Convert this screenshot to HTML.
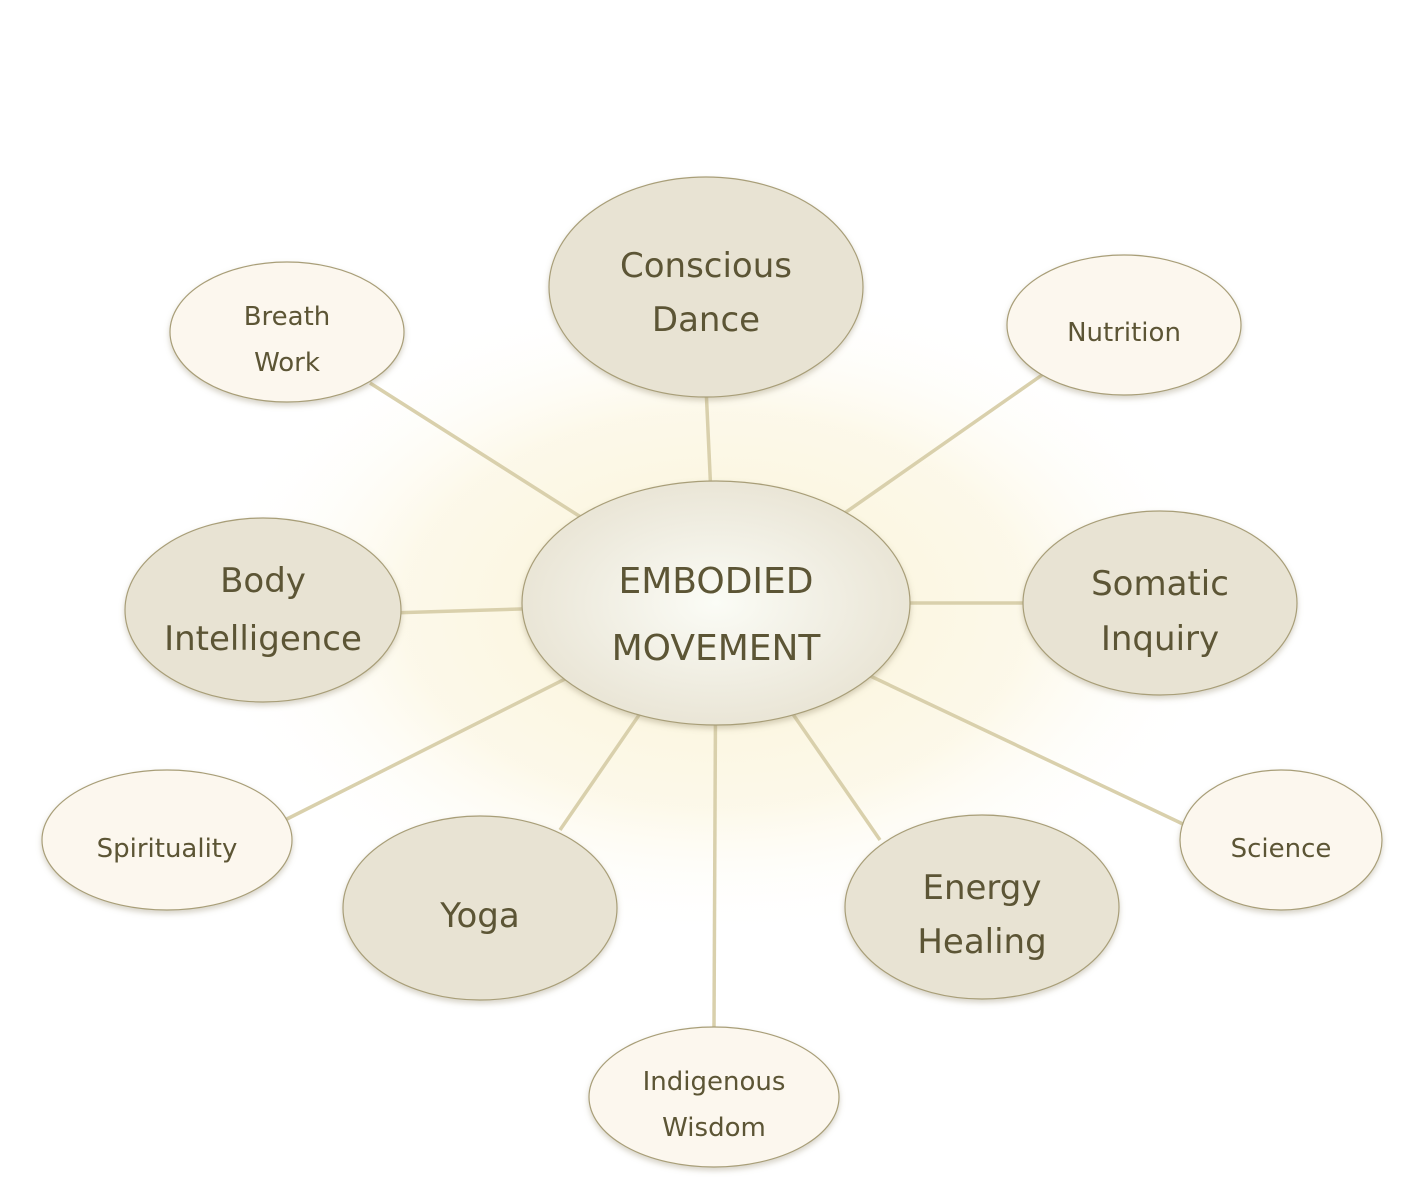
<!DOCTYPE html>
<html><head><style>
html,body{margin:0;padding:0;background:#fff;}
svg{display:block;}
text{font-family:"DejaVu Sans","Liberation Sans",sans-serif;fill:#5c5535;text-anchor:middle;}
</style></head><body>
<svg width="1423" height="1178" viewBox="0 0 1423 1178" xmlns="http://www.w3.org/2000/svg">
<defs>
<radialGradient id="glow" cx="50%" cy="50%" r="50%">
<stop offset="0" stop-color="#faf3d6" stop-opacity="1"/>
<stop offset="0.6" stop-color="#fcf7e4" stop-opacity="0.8"/>
<stop offset="1" stop-color="#fff" stop-opacity="0"/>
</radialGradient>
<radialGradient id="cen" cx="50%" cy="50%" r="55%">
<stop offset="0" stop-color="#fbfcf6"/>
<stop offset="1" stop-color="#e8e3d3"/>
</radialGradient>
<filter id="sh" x="-20%" y="-20%" width="140%" height="150%">
<feDropShadow dx="0" dy="3" stdDeviation="3" flood-color="#8a8060" flood-opacity="0.35"/>
</filter>
</defs>
<ellipse cx="716" cy="610" rx="520" ry="330" fill="url(#glow)"/>
<g stroke="#d9d0ac" stroke-width="3.5" fill="none">
<line x1="716" y1="603" x2="706" y2="387"/>
<line x1="716" y1="603" x2="370" y2="383"/>
<line x1="716" y1="603" x2="1042" y2="375"/>
<line x1="716" y1="603" x2="390" y2="613"/>
<line x1="716" y1="603" x2="1030" y2="603"/>
<line x1="716" y1="603" x2="285" y2="820"/>
<line x1="716" y1="603" x2="560" y2="830"/>
<line x1="716" y1="603" x2="714" y2="1027"/>
<line x1="716" y1="603" x2="880" y2="840"/>
<line x1="716" y1="603" x2="1185" y2="825"/>
</g>
<g stroke="#a89e78" stroke-width="1.2" filter="url(#sh)">
<ellipse cx="706" cy="287" rx="157" ry="110" fill="#e8e3d3"/>
<ellipse cx="287" cy="332" rx="117" ry="70" fill="#fcf7ee"/>
<ellipse cx="1124" cy="325" rx="117" ry="70" fill="#fcf7ee"/>
<ellipse cx="263" cy="610" rx="138" ry="92" fill="#e8e3d3"/>
<ellipse cx="1160" cy="603" rx="137" ry="92" fill="#e8e3d3"/>
<ellipse cx="167" cy="840" rx="125" ry="70" fill="#fcf7ee"/>
<ellipse cx="480" cy="908" rx="137" ry="92" fill="#e8e3d3"/>
<ellipse cx="982" cy="907" rx="137" ry="92" fill="#e8e3d3"/>
<ellipse cx="1281" cy="840" rx="101" ry="70" fill="#fcf7ee"/>
<ellipse cx="714" cy="1097" rx="125" ry="70" fill="#fcf7ee"/>
<ellipse cx="716" cy="603" rx="194" ry="122" fill="url(#cen)"/>
</g>
<g font-size="34">
<text x="706" y="277">Conscious</text>
<text x="706" y="331">Dance</text>
<text x="263" y="592">Body</text>
<text x="263" y="650">Intelligence</text>
<text x="1160" y="595">Somatic</text>
<text x="1160" y="650">Inquiry</text>
<text x="480" y="927">Yoga</text>
<text x="982" y="899">Energy</text>
<text x="982" y="953">Healing</text>
</g>
<g font-size="36">
<text x="716" y="593">EMBODIED</text>
<text x="716" y="660">MOVEMENT</text>
</g>
<g font-size="26">
<text x="287" y="325">Breath</text>
<text x="287" y="371">Work</text>
<text x="1124" y="341">Nutrition</text>
<text x="167" y="857">Spirituality</text>
<text x="1281" y="857">Science</text>
<text x="714" y="1090">Indigenous</text>
<text x="714" y="1136">Wisdom</text>
</g>
</svg>
</body></html>
